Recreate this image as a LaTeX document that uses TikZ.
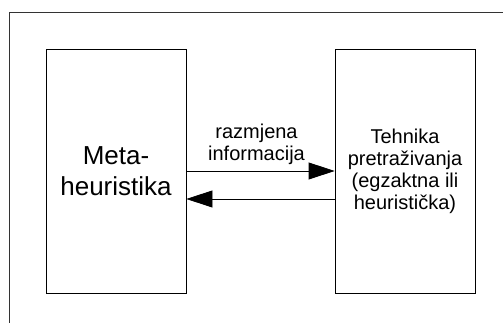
\documentclass[tikz,border=0pt]{standalone}
\usepackage{fontspec}
\setmainfont{Liberation Sans}
\usetikzlibrary{arrows.meta,calc}
\begin{document}
\begin{tikzpicture}[x=1pt,y=1pt,
  box/.style={draw=black,line width=0.8pt,minimum width=140pt,minimum height=244pt,inner sep=0pt,align=center},
  conn/.style={line width=0.8pt,-{Triangle[length=26pt,width=17pt]}},
  small/.style={font=\fontsize{20}{22}\selectfont},
  big/.style={font=\fontsize{26}{31}\selectfont}]
\useasboundingbox (0,0) rectangle (503,323);
\fill[white] (0,0) rectangle (503,323);
\coordinate (fb) at (9,0);
\coordinate (fc) at (9,311);
\coordinate (fr) at (503,311);
\draw[line width=0.8pt,black!80] (fb) -- (fc) -- (fr);
\node[box,big] (L) at (116,152) {Meta-\\heuristika};
\node[box,small] (R) at (405,152) {Tehnika\\pretraživanja\\(egzaktna ili\\heuristička)};
\draw[conn] (L.east) -- (R.west);
\draw[conn] ([yshift=-28pt]R.west) -- ([yshift=-28pt]L.east);
\node[small,align=center,anchor=south,inner sep=0pt] (lab) at ($(L.east)!0.5!(R.west)+(-4,6)$) {razmjena\\informacija};
\end{tikzpicture}
\end{document}
